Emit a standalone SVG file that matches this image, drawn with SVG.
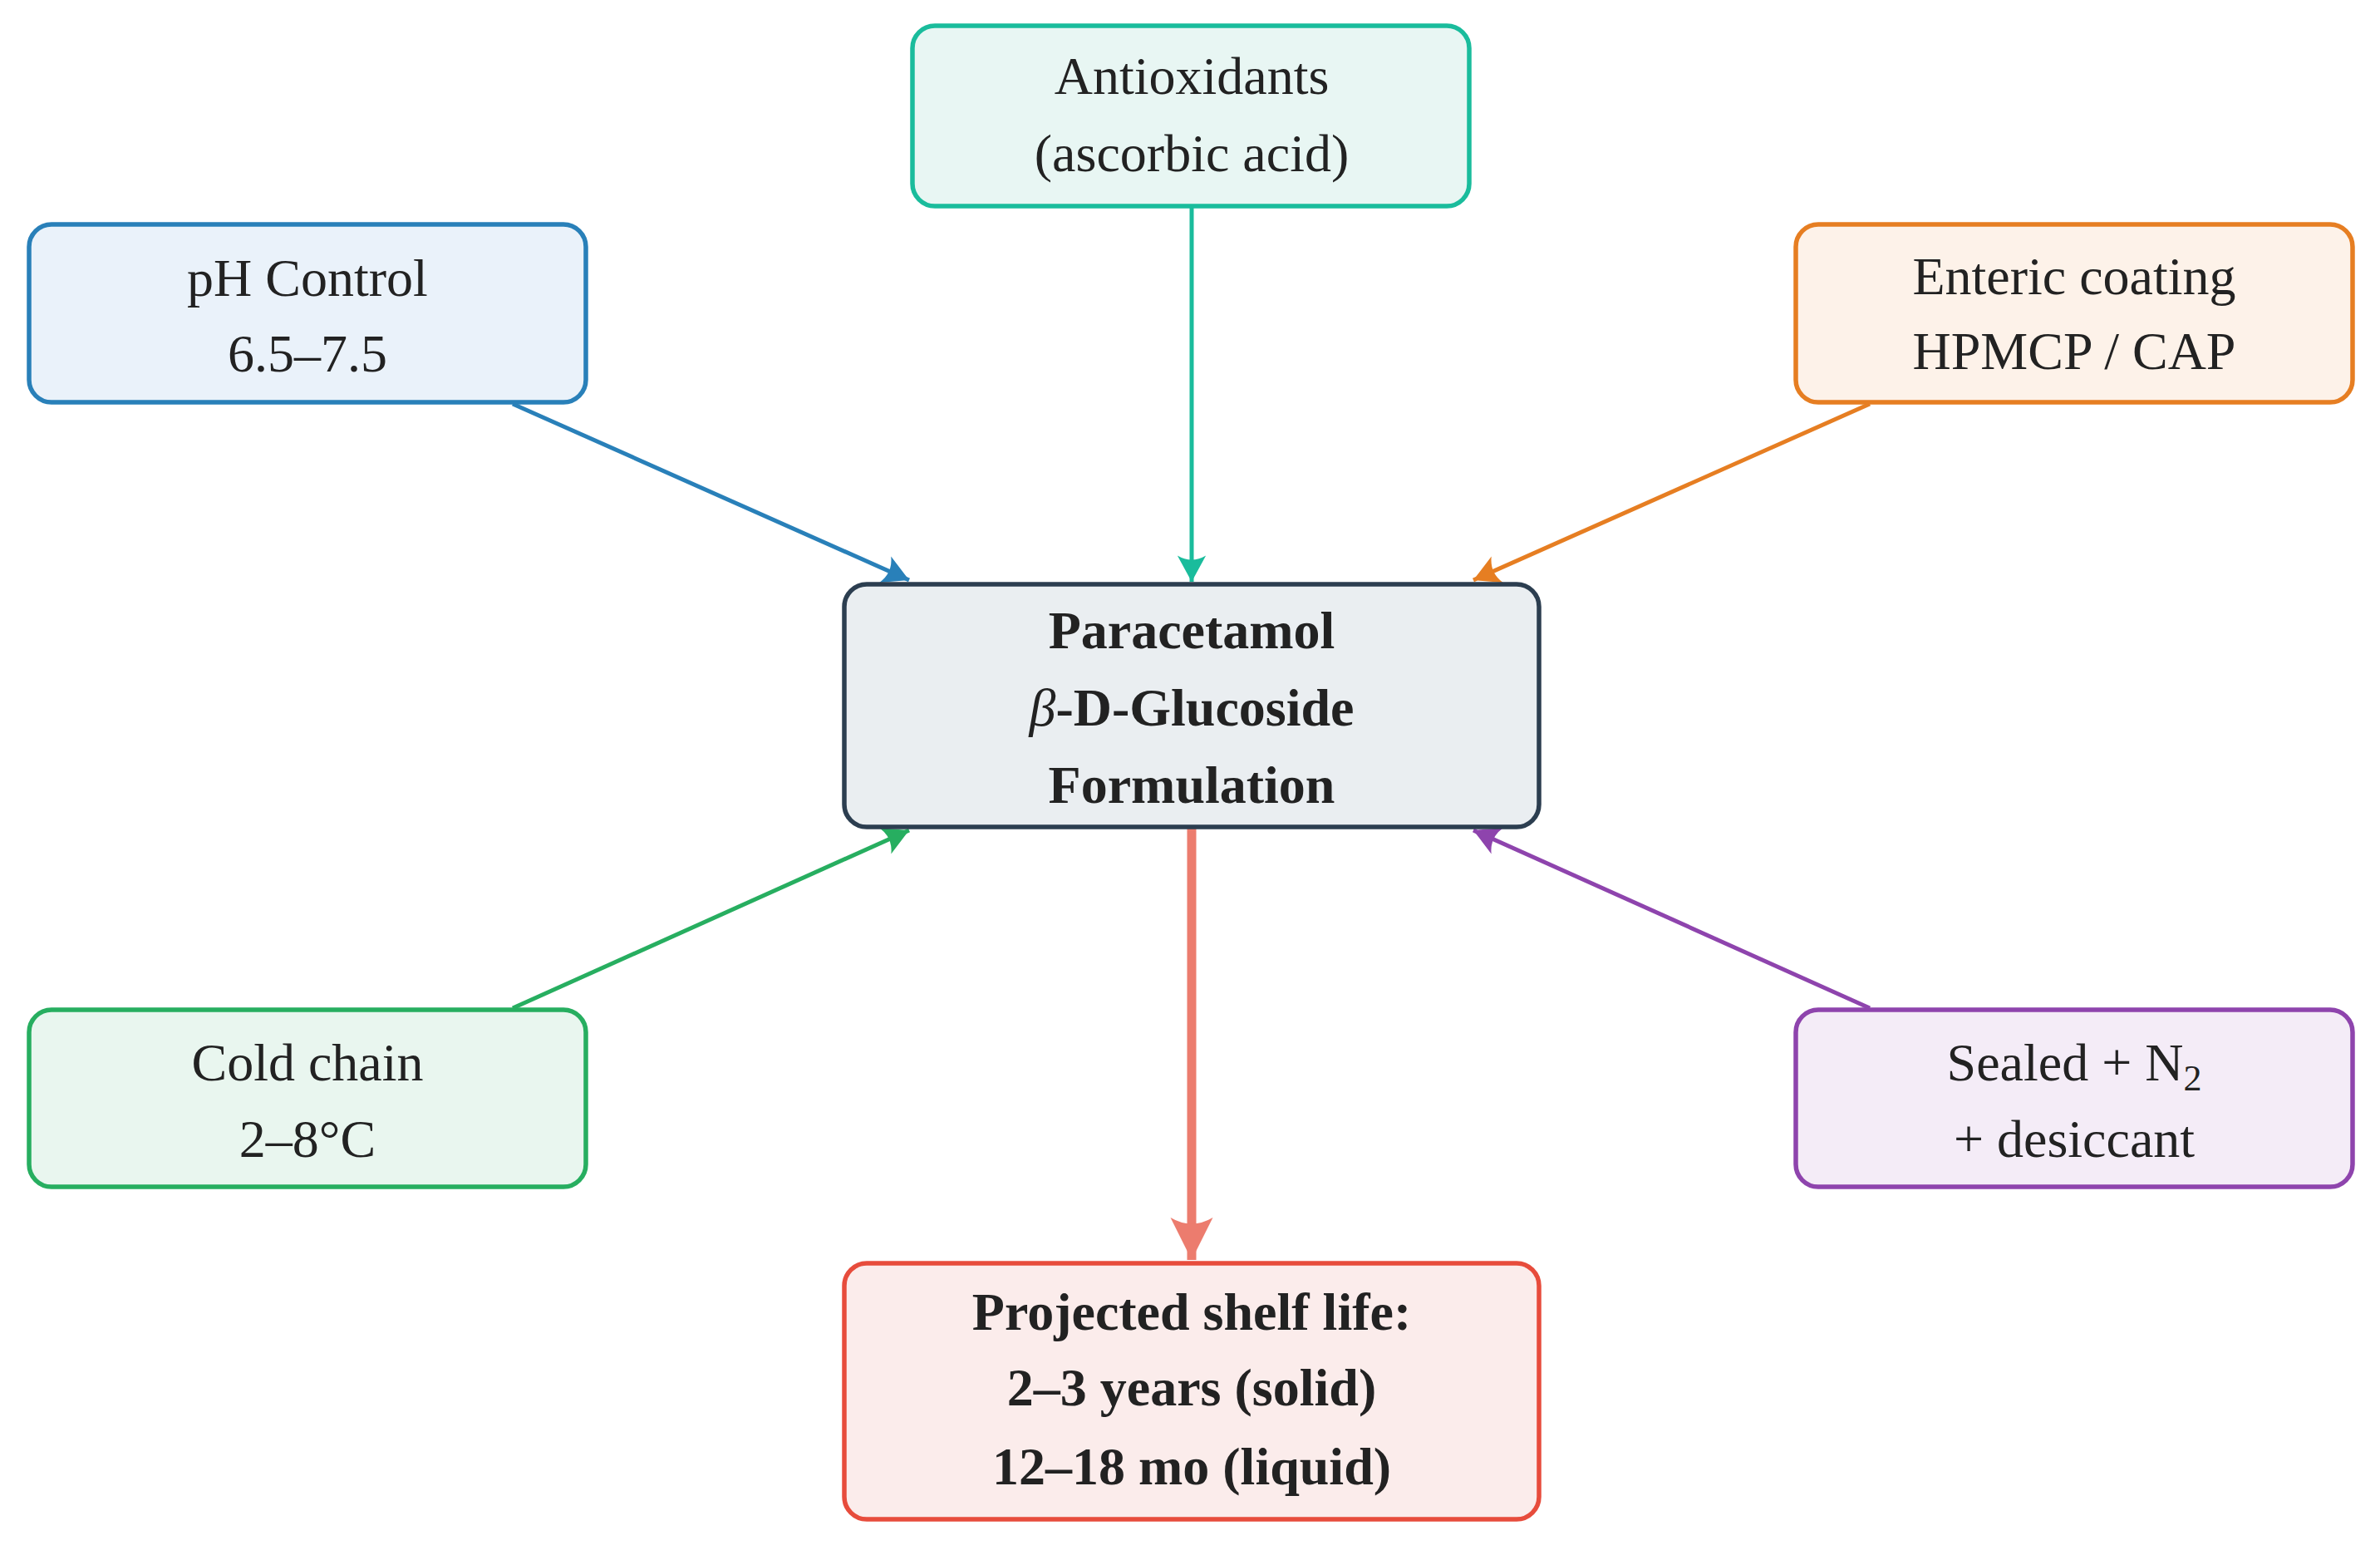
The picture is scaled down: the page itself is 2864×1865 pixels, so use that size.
<svg xmlns="http://www.w3.org/2000/svg" width="2864" height="1865" viewBox="0 0 2864 1865">
<style>
text{font-family:"Liberation Serif","DejaVu Serif",serif;font-size:64px;fill:#222;text-anchor:middle}
.b{font-weight:bold}
rect{stroke-width:5.5}
.c{fill:none;stroke-width:5}
</style>
<defs>
<marker id="mb" markerUnits="userSpaceOnUse" markerWidth="40" markerHeight="40" viewBox="-24 -14 28 28" refX="0" refY="0" orient="auto"><path d="M0,0 L-22,-12 Q-15,0 -22,12 Z" fill="#2980b9"/></marker>
<marker id="mt" markerUnits="userSpaceOnUse" markerWidth="40" markerHeight="40" viewBox="-24 -14 28 28" refX="0" refY="0" orient="auto"><path d="M0,0 L-22,-12 Q-15,0 -22,12 Z" fill="#1abc9c"/></marker>
<marker id="mo" markerUnits="userSpaceOnUse" markerWidth="40" markerHeight="40" viewBox="-24 -14 28 28" refX="0" refY="0" orient="auto"><path d="M0,0 L-22,-12 Q-15,0 -22,12 Z" fill="#e67e22"/></marker>
<marker id="mg" markerUnits="userSpaceOnUse" markerWidth="40" markerHeight="40" viewBox="-24 -14 28 28" refX="0" refY="0" orient="auto"><path d="M0,0 L-22,-12 Q-15,0 -22,12 Z" fill="#27ae60"/></marker>
<marker id="mp" markerUnits="userSpaceOnUse" markerWidth="40" markerHeight="40" viewBox="-24 -14 28 28" refX="0" refY="0" orient="auto"><path d="M0,0 L-22,-12 Q-15,0 -22,12 Z" fill="#8e44ad"/></marker>
<marker id="mr" markerUnits="userSpaceOnUse" markerWidth="60" markerHeight="60" viewBox="-36 -20 40 40" refX="0" refY="0" orient="auto"><path d="M0,0 L-34,-17 Q-24,0 -34,17 Z" fill="#ec7c6e"/></marker>
</defs>
<g id="connectors">
<line class="c" x1="617" y1="486" x2="1094" y2="698" stroke="#2980b9" marker-end="url(#mb)"/>
<line class="c" x1="1434" y1="248" x2="1434" y2="700" stroke="#1abc9c" marker-end="url(#mt)"/>
<line class="c" x1="2250" y1="486" x2="1773" y2="698" stroke="#e67e22" marker-end="url(#mo)"/>
<line class="c" x1="617" y1="1213" x2="1094" y2="999" stroke="#27ae60" marker-end="url(#mg)"/>
<line class="c" x1="2250" y1="1213" x2="1773" y2="999" stroke="#8e44ad" marker-end="url(#mp)"/>
<line x1="1434" y1="997" x2="1434" y2="1516" stroke="#ec7c6e" stroke-width="11" marker-end="url(#mr)"/>
</g>
<g id="antioxidants"><rect x="1098" y="31" width="670" height="217" rx="27" fill="#e8f6f3" stroke="#1abc9c"/><text x="1434" y="113">Antioxidants</text><text x="1434" y="206">(ascorbic acid)</text></g>
<g id="ph"><rect x="35" y="270" width="670" height="214" rx="27" fill="#eaf2fa" stroke="#2980b9"/><text x="370" y="356">pH Control</text><text x="370" y="447">6.5–7.5</text></g>
<g id="enteric"><rect x="2161" y="270" width="670" height="214" rx="27" fill="#fdf2e9" stroke="#e67e22"/><text x="2496" y="354">Enteric coating</text><text x="2496" y="444">HPMCP / CAP</text></g>
<g id="center"><rect x="1016" y="703" width="836" height="292" rx="27" fill="#eaeef1" stroke="#2c3e50"/><text class="b" x="1434" y="780">Paracetamol</text><text class="b" x="1434" y="873"><tspan font-style="italic" font-weight="normal">β</tspan>-D-Glucoside</text><text class="b" x="1434" y="966">Formulation</text></g>
<g id="cold"><rect x="35" y="1215" width="670" height="213" rx="27" fill="#e9f6ef" stroke="#27ae60"/><text x="370" y="1300">Cold chain</text><text x="370" y="1392">2–8°C</text></g>
<g id="sealed"><rect x="2161" y="1215" width="670" height="213" rx="27" fill="#f4ecf7" stroke="#8e44ad"/><text x="2496" y="1300">Sealed + N<tspan font-size="44" dy="12">2</tspan></text><text x="2496" y="1392">+ desiccant</text></g>
<g id="shelf"><rect x="1016" y="1520" width="836" height="308" rx="27" fill="#fbeceb" stroke="#e74c3c"/><text class="b" x="1434" y="1600">Projected shelf life:</text><text class="b" x="1434" y="1691">2–3 years (solid)</text><text class="b" x="1434" y="1786">12–18 mo (liquid)</text></g>
</svg>
